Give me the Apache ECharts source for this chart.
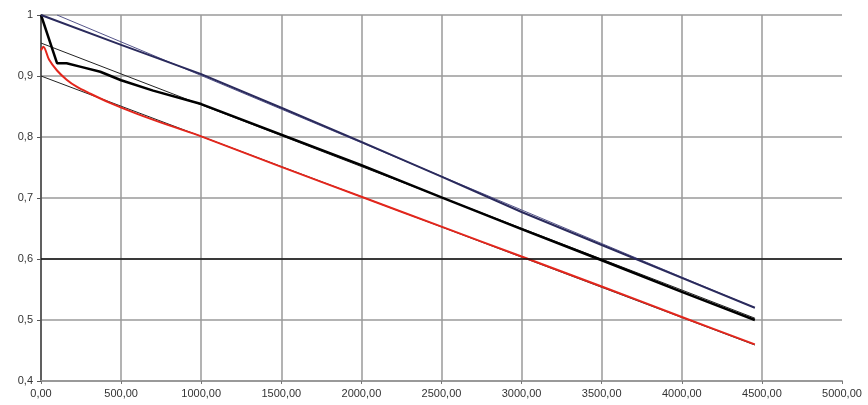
<!DOCTYPE html>
<html>
<head>
<meta charset="utf-8">
<script src="https://cdn.jsdelivr.net/npm/echarts@6/dist/echarts.min.js"></script>
<style>
html,body{margin:0;padding:0;background:#fff;}
#chart{width:868px;height:405px;}
</style>
</head>
<body>
<div id="chart"></div>
<script>
// X positions and values for each curve
var blueX   = [0, 500, 1000, 1500, 2000, 2500, 3000, 3500, 4000, 4456];
var blueY   = [1, 0.951, 0.903, 0.848, 0.792, 0.735, 0.677, 0.623, 0.569, 0.52];

var blackX  = [0, 100, 160, 250, 370, 500, 700, 1000, 1500, 2000, 2500, 3000, 3500, 4000, 4456];
var blackY  = [1, 0.921, 0.921, 0.915, 0.907, 0.893, 0.876, 0.854, 0.804, 0.754, 0.701, 0.649, 0.598, 0.546, 0.5];

var redX    = [0, 15, 50, 100, 160, 225, 300, 430, 600, 800, 1000, 1500, 2000, 2500, 3000, 3500, 4000, 4456];
var redY    = [0.942, 0.948, 0.927, 0.909, 0.894, 0.882, 0.872, 0.856, 0.838, 0.819, 0.801, 0.751, 0.702, 0.653, 0.604, 0.555, 0.505, 0.46];

// thin straight reference lines (start / end)
var refBlueX  = [100, 4456];
var refBlueY  = [1, 0.52];
var refBlackX = [0, 4456];
var refBlackY = [0.954, 0.503];
var refRedX   = [0, 4456];
var refRedY   = [0.9, 0.459];

// tick labels
var xTickValues = [0, 500, 1000, 1500, 2000, 2500, 3000, 3500, 4000, 4500, 5000];
var xTickLabels = ['0,00', '500,00', '1000,00', '1500,00', '2000,00', '2500,00', '3000,00', '3500,00', '4000,00', '4500,00', '5000,00'];
var yTickValues = [0.4, 0.5, 0.6, 0.7, 0.8, 0.9, 1];
var yTickLabels = ['0,4', '0,5', '0,6', '0,7', '0,8', '0,9', '1'];

function pairs(xs, ys) { return xs.map(function (x, i) { return [x, ys[i]]; }); }
function lookup(vals, labels, v) {
  for (var i = 0; i < vals.length; i++) { if (Math.abs(vals[i] - v) < 1e-6) return labels[i]; }
  return '';
}

var chart = echarts.init(document.getElementById('chart'), null, {renderer: 'canvas'});
var labelFont = {color: '#333', fontSize: 11, fontFamily: 'Liberation Sans, Arial, sans-serif'};

chart.setOption({
  animation: false,
  backgroundColor: '#fff',
  grid: {left: 41, right: 26, top: 15, bottom: 24, containLabel: false},
  xAxis: {
    type: 'value', min: 0, max: 5000, interval: 500,
    axisLine: {show: true, onZero: false, lineStyle: {color: '#999', width: 2}},
    axisTick: {show: true, length: 3, lineStyle: {color: '#777', width: 1}},
    axisLabel: Object.assign({margin: 7, formatter: function (v) { return lookup(xTickValues, xTickLabels, v); }}, labelFont),
    splitLine: {show: true, showMaxLine: false, lineStyle: {color: '#9a9a9a', width: 1.5}}
  },
  yAxis: {
    type: 'value', min: 0.4, max: 1, interval: 0.1,
    axisLine: {show: true, onZero: false, lineStyle: {color: '#444', width: 1.5}},
    axisTick: {show: true, length: 4, lineStyle: {color: '#555', width: 1}},
    axisLabel: Object.assign({margin: 8, formatter: function (v) { return lookup(yTickValues, yTickLabels, v); }}, labelFont),
    splitLine: {show: true, lineStyle: {color: '#9a9a9a', width: 1.5}}
  },
  series: [
    {
      type: 'line', data: pairs(refRedX, refRedY), showSymbol: false, symbol: 'none',
      lineStyle: {color: '#222', width: 1}, z: 3,
      markLine: {silent: true, symbol: 'none', label: {show: false},
        lineStyle: {color: '#111', width: 1.5, type: 'solid'}, data: [{yAxis: 0.6}]}
    },
    {type: 'line', data: pairs(refBlackX, refBlackY), showSymbol: false, symbol: 'none',
      lineStyle: {color: '#222', width: 1}, z: 3},
    {type: 'line', data: pairs(refBlueX, refBlueY), showSymbol: false, symbol: 'none',
      lineStyle: {color: '#55558a', width: 1}, z: 3},
    {type: 'line', data: pairs(redX, redY), showSymbol: false, symbol: 'none', smooth: 0.3,
      lineStyle: {color: '#e3261c', width: 2}, z: 4},
    {type: 'line', data: pairs(blackX, blackY), showSymbol: false, symbol: 'none',
      lineStyle: {color: '#000', width: 2.5}, z: 5},
    {type: 'line', data: pairs(blueX, blueY), showSymbol: false, symbol: 'none',
      lineStyle: {color: '#2a2a5c', width: 2}, z: 5}
  ]
});
</script>
</body>
</html>
